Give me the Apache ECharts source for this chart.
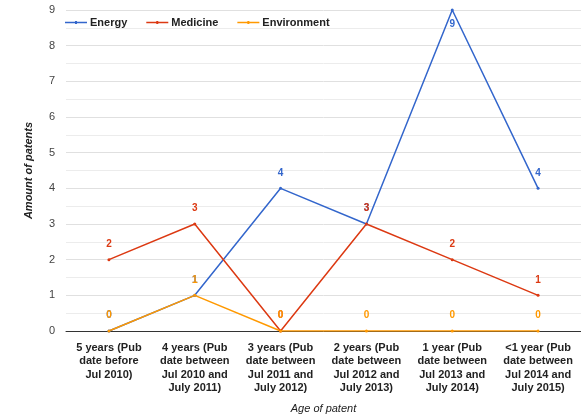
<!DOCTYPE html>
<html>
<head>
<meta charset="utf-8">
<script src="https://cdn.jsdelivr.net/npm/echarts@6/dist/echarts.min.js"></script>
<style>
  html, body { margin: 0; padding: 0; background: #fff; }
  #chart { width: 581px; height: 419px; }
</style>
</head>
<body>
<div id="chart"></div>
<script>
// Patent counts per field, grouped by age of publication
var categories = [
  '5 years (Pub\ndate before\nJul 2010)',
  '4 years (Pub\ndate between\nJul 2010 and\nJuly 2011)',
  '3 years (Pub\ndate between\nJul 2011 and\nJuly 2012)',
  '2 years (Pub\ndate between\nJul 2012 and\nJuly 2013)',
  '1 year (Pub\ndate between\nJul 2013 and\nJuly 2014)',
  '<1 year (Pub\ndate between\nJul 2014 and\nJuly 2015)'
];
var energy = [0, 1, 4, 3, 9, 4];
var medicine = [2, 3, 0, 3, 2, 1];
var environment = [0, 1, 0, 0, 0, 0];

var FONT = '"Liberation Sans", Arial, sans-serif';
// legend key: a thin line with a small square dot in the middle
var LEGEND_ICON = 'path://M0,0.75H22V2.25H0Z M10,0H12V3H10Z';

function lineSeries(name, data, color) {
  return {
    name: name,
    type: 'line',
    data: data,
    color: color,
    symbol: 'circle',
    symbolSize: 3,
    lineStyle: { width: 1.5, color: color },
    itemStyle: { color: color },
    label: {
      show: true,
      position: 'top',
      distance: 9,
      color: color,
      fontFamily: FONT,
      fontWeight: 'bold',
      fontSize: 10
    },
    emphasis: { disabled: true }
  };
}

var energySeries = lineSeries('Energy', energy, '#3366cc');
// the peak label sits just under its point so it stays inside the plot
energySeries.data = energy.map(function (v) {
  return v === 9 ? { value: v, label: { position: 'bottom', distance: 8 } } : v;
});

var chart = echarts.init(document.getElementById('chart'), null, { renderer: 'canvas' });
chart.setOption({
  animation: false,
  textStyle: { fontFamily: FONT },
  legend: {
    left: 60,
    top: 12,
    itemWidth: 22,
    itemHeight: 3,
    itemGap: 19,
    icon: LEGEND_ICON,
    textStyle: { fontFamily: FONT, fontWeight: 'bold', fontSize: 11, color: '#222', padding: [0, 0, 0, -2] },
    data: ['Energy', 'Medicine', 'Environment']
  },
  grid: { left: 66, right: 0, top: 10, bottom: 87, containLabel: false },
  xAxis: {
    type: 'category',
    data: categories,
    boundaryGap: true,
    name: 'Age of patent',
    nameLocation: 'middle',
    nameGap: 72,
    nameTextStyle: { fontFamily: FONT, fontStyle: 'italic', fontSize: 11, color: '#222' },
    axisLine: { show: true, lineStyle: { color: '#333', width: 1 } },
    axisTick: { show: false },
    axisLabel: {
      interval: 0,
      margin: 10,
      fontFamily: FONT,
      fontWeight: 'bold',
      fontSize: 11,
      lineHeight: 13.5,
      color: '#222'
    }
  },
  yAxis: {
    type: 'value',
    min: 0,
    max: 9,
    interval: 1,
    name: 'Amount of patents',
    nameLocation: 'middle',
    nameGap: 32,
    nameTextStyle: { fontFamily: FONT, fontStyle: 'italic', fontWeight: 'bold', fontSize: 11, color: '#222' },
    axisLine: { show: false },
    axisTick: { show: false },
    axisLabel: { margin: 11, fontFamily: FONT, fontSize: 11, color: '#444' },
    splitLine: { show: true, lineStyle: { color: '#e0e0e0', width: 1 } },
    minorTick: { show: false, splitNumber: 2 },
    minorSplitLine: { show: true, lineStyle: { color: '#ececec', width: 1 } }
  },
  series: [
    energySeries,
    lineSeries('Medicine', medicine, '#dc3912'),
    lineSeries('Environment', environment, '#ff9900')
  ]
});
</script>
</body>
</html>
